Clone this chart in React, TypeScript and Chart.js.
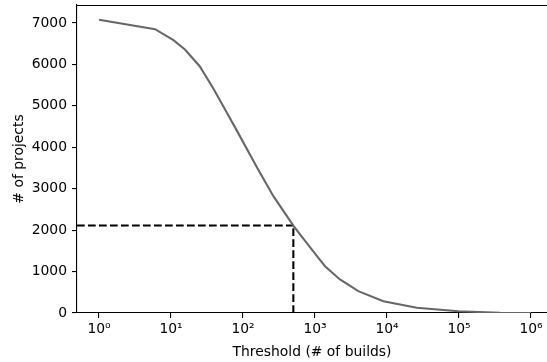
import React, { useEffect, useRef } from "react";
import { Chart, registerables } from "chart.js";

Chart.register(...registerables);

// Minimum-build threshold (x) vs. number of projects that meet it (y)
const thresholds = [
  1, 6, 10.8, 15.6, 25, 38.7, 59.4, 81, 160, 264, 500, 619, 1113, 1377, 2220,
  3990, 8900, 25900, 98000, 370000, 1000000,
];
const projectCounts = [
  7080, 6850, 6585, 6360, 5957, 5420, 4840, 4420, 3480, 2819, 2110, 1895, 1332,
  1130, 809, 527, 286, 125, 43, 5, 0,
];

// Highlighted cut-off
const CUTOFF_BUILDS = 500;
const CUTOFF_PROJECTS = 2110;

// Axis ranges and ticks
const X_MIN = Math.pow(10, -0.306);
const X_MAX = Math.pow(10, 6.222);
const Y_MIN = 0;
const Y_MAX = 7434;
const xTickValues = [1, 10, 100, 1000, 10000, 100000, 1000000];
const xTickLabels = ["10⁰", "10¹", "10²", "10³", "10⁴", "10⁵", "10⁶"];
const yTickValues = [0, 1000, 2000, 3000, 4000, 5000, 6000, 7000];

const FONT = "'DejaVu Sans', sans-serif";
const FONT_SIZE = 13.9;

const topSpine = {
  id: "topSpine",
  afterDraw(chart: any) {
    const { ctx, chartArea } = chart;
    ctx.save();
    ctx.strokeStyle = "#000";
    ctx.lineWidth = 1.1;
    ctx.beginPath();
    ctx.moveTo(chartArea.left, chartArea.top + 0.5);
    ctx.lineTo(chartArea.right, chartArea.top + 0.5);
    ctx.stroke();
    ctx.restore();
  },
};

export default function App() {
  const canvasRef = useRef<HTMLCanvasElement | null>(null);

  useEffect(() => {
    document.body.style.margin = "0";
    const canvas = canvasRef.current;
    if (!canvas) return;

    const curve = thresholds.map((x, i) => ({ x, y: projectCounts[i] }));

    const chart = new Chart(canvas, {
      type: "line",
      data: {
        datasets: [
          {
            data: curve,
            borderColor: "#676767",
            borderWidth: 2.08,
            pointRadius: 0,
            tension: 0,
          },
          {
            data: [
              { x: CUTOFF_BUILDS, y: Y_MIN },
              { x: CUTOFF_BUILDS, y: CUTOFF_PROJECTS },
            ],
            borderColor: "#000",
            borderWidth: 2.08,
            borderDash: [7.7, 3.3],
            pointRadius: 0,
          },
          {
            data: [
              { x: X_MIN, y: CUTOFF_PROJECTS },
              { x: CUTOFF_BUILDS, y: CUTOFF_PROJECTS },
            ],
            borderColor: "#000",
            borderWidth: 2.08,
            borderDash: [7.7, 3.3],
            pointRadius: 0,
          },
        ],
      },
      options: {
        responsive: false,
        animation: false,
        layout: { padding: { top: 5, right: 0, left: 0, bottom: 0 } },
        plugins: {
          legend: { display: false },
          tooltip: { enabled: false },
        },
        scales: {
          x: {
            type: "logarithmic",
            min: X_MIN,
            max: X_MAX,
            afterBuildTicks: (scale: any) => {
              scale.ticks = xTickValues.map((value) => ({ value }));
            },
            afterFit: (scale: any) => {
              scale.height = 49;
              scale.paddingLeft = 0;
              scale.paddingRight = 0;
            },
            ticks: {
              autoSkip: false,
              maxRotation: 0,
              padding: 3,
              color: "#000",
              font: { family: FONT, size: FONT_SIZE },
              callback: (value: any) => {
                const i = xTickValues.indexOf(Number(value));
                return i >= 0 ? xTickLabels[i] : "";
              },
            },
            grid: {
              drawOnChartArea: false,
              drawTicks: true,
              tickLength: 5,
              color: "#000",
              lineWidth: 1.1,
            },
            border: { display: true, color: "#000", width: 1.1 },
            title: {
              display: true,
              text: "Threshold (# of builds)",
              color: "#000",
              font: { family: FONT, size: FONT_SIZE },
              padding: { top: 0, bottom: 1.5 },
            },
          },
          y: {
            type: "linear",
            min: Y_MIN,
            max: Y_MAX,
            afterBuildTicks: (scale: any) => {
              scale.ticks = yTickValues.map((value) => ({ value }));
            },
            afterFit: (scale: any) => {
              scale.width = 77;
              scale.paddingTop = 0;
              scale.paddingBottom = 0;
            },
            ticks: {
              autoSkip: false,
              padding: 5,
              color: "#000",
              font: { family: FONT, size: FONT_SIZE },
              callback: (value: any) => String(value),
            },
            grid: {
              drawOnChartArea: false,
              drawTicks: true,
              tickLength: 5,
              color: "#000",
              lineWidth: 1.1,
            },
            border: { display: true, color: "#000", width: 1.1 },
            title: {
              display: true,
              text: "# of projects",
              color: "#000",
              font: { family: FONT, size: FONT_SIZE },
              padding: { top: 11, bottom: 0 },
            },
          },
        },
      },
      plugins: [topSpine],
    });

    return () => chart.destroy();
  }, []);

  return (
    <div style={{ width: 547, height: 362 }}>
      <canvas
        ref={canvasRef}
        width={547}
        height={362}
        style={{ display: "block", width: 547, height: 362 }}
      />
    </div>
  );
}
